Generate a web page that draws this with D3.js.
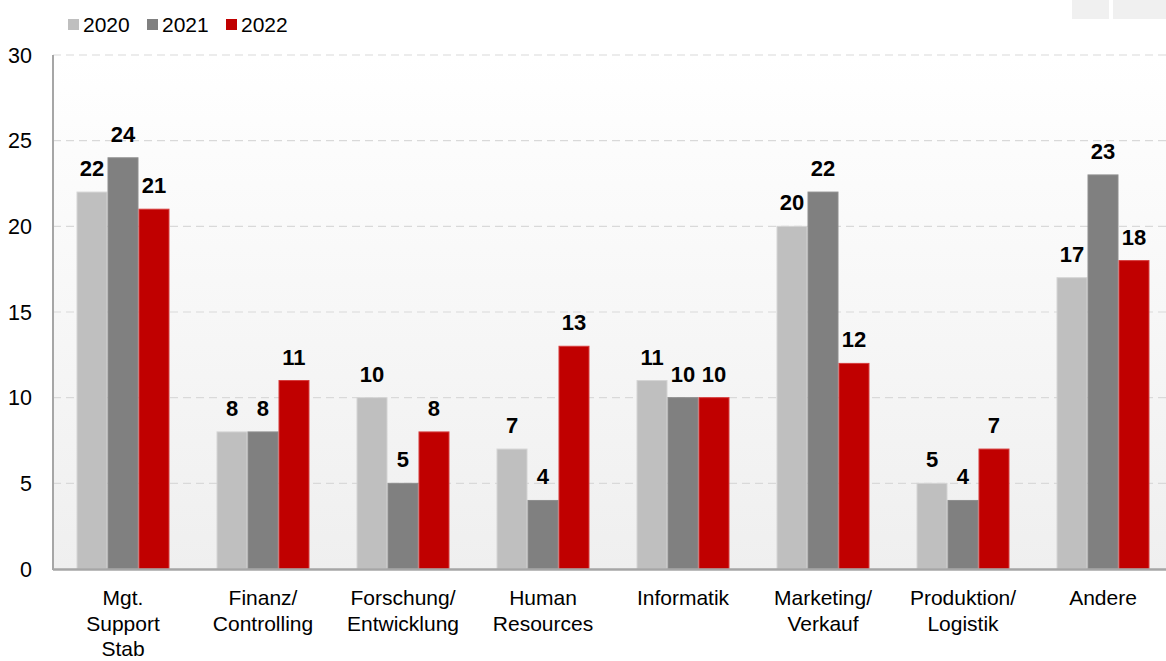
<!DOCTYPE html>
<html><head><meta charset="utf-8">
<script src="https://cdn.jsdelivr.net/npm/d3@7"></script>
<style>body{margin:0;background:#fff;}svg{display:block;font-family:Arial,"Liberation Sans",sans-serif;}</style>
</head><body><svg id="c" width="1166" height="661"></svg>
<script>
const categories = [["Mgt.","Support","Stab"],["Finanz/","Controlling"],["Forschung/","Entwicklung"],["Human","Resources"],["Informatik"],["Marketing/","Verkauf"],["Produktion/","Logistik"],["Andere"]];
const seriesNames = ["2020","2021","2022"];
const values2020 = [22, 8, 10, 7, 11, 20, 5, 17];
const values2021 = [24, 8, 5, 4, 10, 22, 4, 23];
const values2022 = [21, 11, 8, 13, 10, 12, 7, 18];
const yTicks = [0, 5, 10, 15, 20, 25, 30];
const colors = ["#bfbfbf", "#808080", "#c00000"];
const strokes = ["#d4d4d4", "#8e8e8e", "#d63c3c"];

(function(){
const series = [values2020, values2021, values2022];
const svg = d3.select("#c");
const pLeft = 53, pTop = 55, pBottom = 569, pRight = 1166;

const defs = svg.append("defs");
const g = defs.append("linearGradient").attr("id","bg").attr("x1",0).attr("y1",0).attr("x2",0).attr("y2",1);
g.append("stop").attr("offset","0%").attr("stop-color","#ffffff");
g.append("stop").attr("offset","100%").attr("stop-color","#efefef");

svg.append("rect").attr("x",pLeft).attr("y",pTop).attr("width",pRight-pLeft).attr("height",pBottom-pTop).attr("fill","url(#bg)");

const y = d3.scaleLinear().domain([0,30]).range([pBottom, pTop]);
const x0 = d3.scaleBand().domain(d3.range(categories.length)).range([pLeft, pLeft + 140*8]).paddingInner(0.336).paddingOuter(0.168);
const x1 = d3.scaleBand().domain(d3.range(3)).range([0, x0.bandwidth()]);

svg.append("g").selectAll("line").data(yTicks.filter(t=>t>0)).join("line")
  .attr("x1", pLeft).attr("x2", pRight).attr("y1", d=>y(d)).attr("y2", d=>y(d))
  .attr("stroke","#d9d9d9").attr("stroke-width",1.2).attr("stroke-dasharray","8,5");

svg.append("g").selectAll("text").data(yTicks).join("text")
  .attr("x", 32).attr("y", d=>y(d)).attr("dy","0.36em").attr("text-anchor","end")
  .attr("font-size",21.5).attr("fill","#000").text(d=>d);

const groups = svg.append("g").selectAll("g").data(categories).join("g")
  .attr("transform",(d,i)=>`translate(${x0(i)},0)`);
groups.each(function(c, i){
  const gg = d3.select(this);
  series.forEach((s, k) => {
    gg.append("rect").attr("x", x1(k)+0.5).attr("y", y(s[i])).attr("width", x1.bandwidth()-1)
      .attr("height", y(0)-y(s[i])).attr("fill", colors[k]).attr("stroke", strokes[k]).attr("stroke-width",1);
    gg.append("text").attr("x", x1(k)+x1.bandwidth()/2).attr("y", y(s[i]) - 16)
      .attr("text-anchor","middle").attr("font-size",22).attr("font-weight","bold").attr("fill","#000").text(s[i]);
  });
});

svg.append("line").attr("x1",pLeft).attr("x2",pLeft).attr("y1",pTop).attr("y2",pBottom+1).attr("stroke","#a6a6a6").attr("stroke-width",2);
svg.append("line").attr("x1",pLeft).attr("x2",pRight).attr("y1",pBottom+0.5).attr("y2",pBottom+0.5).attr("stroke","#a6a6a6").attr("stroke-width",2.5);

svg.append("g").selectAll("text").data(categories).join("text")
  .attr("x",(d,i)=>x0(i)+x0.bandwidth()/2).attr("y",605).attr("text-anchor","middle")
  .attr("font-size",21).attr("fill","#000")
  .each(function(d){
    const t = d3.select(this);
    d.forEach((line, j) => t.append("tspan").attr("x", t.attr("x")).attr("dy", j===0?0:25.5).text(line));
  });

const legX = [68, 147, 226];
seriesNames.forEach((n,k)=>{
  svg.append("rect").attr("x",legX[k]).attr("y",19).attr("width",11).attr("height",11).attr("fill",colors[k]);
  svg.append("text").attr("x",legX[k]+15).attr("y",32).attr("font-size",21).attr("fill","#000").text(n);
});

svg.append("rect").attr("x",1072).attr("y",0).attr("width",37).attr("height",19).attr("fill","#f0f0f0");
svg.append("rect").attr("x",1113).attr("y",0).attr("width",53).attr("height",19).attr("fill","#f0f0f0");
})();
</script></body></html>
